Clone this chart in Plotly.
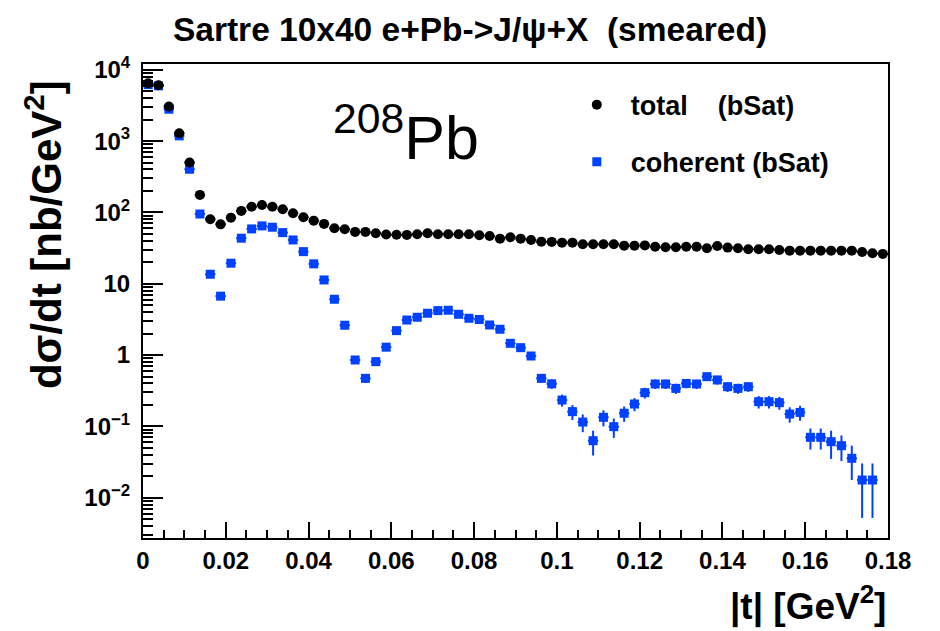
import plotly.graph_objects as go

# ---- data ----
n_bins = 72
bin_width = 0.0025
t_centers = [round(bin_width * (i + 0.5), 6) for i in range(n_bins)]

total_bsat = [
    6490, 6080, 3050, 1290, 500, 176, 80, 68, 84.5, 105,
    120, 127, 120, 111, 97.5, 85.6, 76.7, 69, 60, 58,
    53.3, 53.3, 51, 48.9, 48.5, 48.4, 49.5, 51.1, 49.5, 49.5,
    49.5, 49.5, 47.9, 46.8, 42.9, 44.9, 42.9, 41.1, 38.9, 38.6,
    37.7, 37.7, 35.8, 35.8, 35.8, 35.8, 34.2, 34.2, 34.5, 33.0,
    32.5, 32.5, 33.1, 33.1, 31.5, 33.9, 32.1, 31.5, 30.5, 30.5,
    30.5, 29.8, 29.1, 29.1, 29.1, 29.1, 29.1, 29.1, 29.1, 27.9,
    26.8, 26.2,
]

coherent_bsat = [
    6200, 5950, 2800, 1183, 403, 95, 13.6, 6.7, 19.4, 43.5,
    58.7, 64.7, 62, 52.1, 41.1, 28.2, 19.0, 11.3, 6.06, 2.62,
    0.853, 0.472, 0.808, 1.29, 2.2, 3.1, 3.39, 3.86, 4.2, 4.25,
    3.73, 3.28, 3.15, 2.64, 2.3, 1.46, 1.27, 0.97, 0.472, 0.395,
    0.234, 0.161, 0.115, 0.063, 0.134, 0.099, 0.153, 0.206, 0.297, 0.393,
    0.393, 0.341, 0.40, 0.393, 0.498, 0.448, 0.36, 0.341, 0.36, 0.222,
    0.222, 0.215, 0.149, 0.157, 0.0703, 0.0703, 0.061, 0.0536, 0.0357, 0.0177,
    0.0177, None,
]

coherent_err = [
    7.3, 7.2, 5.0, 3.2, 1.9, 0.9, 0.35, 0.24, 0.41, 0.62,
    0.72, 0.75, 0.74, 0.68, 0.6, 0.5, 0.41, 0.32, 0.23, 0.15,
    0.087, 0.064, 0.084, 0.107, 0.14, 0.165, 0.17, 0.18, 0.19, 0.19,
    0.18, 0.17, 0.167, 0.152, 0.142, 0.113, 0.106, 0.092, 0.064, 0.059,
    0.045, 0.038, 0.032, 0.024, 0.034, 0.03, 0.037, 0.043, 0.051, 0.059,
    0.059, 0.055, 0.059, 0.059, 0.066, 0.063, 0.056, 0.055, 0.056, 0.044,
    0.044, 0.044, 0.036, 0.037, 0.023, 0.023, 0.026, 0.021, 0.018, 0.0125,
    0.0125, 0,
]

y_tickvals = [0.01, 0.1, 1, 10, 100, 1000, 10000]
y_ticktext = ["10<sup>\u22122</sup>", "10<sup>\u22121</sup>", "1", "10",
              "10<sup>2</sup>", "10<sup>3</sup>", "10<sup>4</sup>"]
y_minor = [k * 10.0 ** e for e in range(-3, 5) for k in range(2, 10)]

FONT = "Liberation Sans, Arial, Helvetica, sans-serif"
BLUE = "#0040ff"

# page has an 8px body margin -> figure is 8px smaller and shifted
W, H = 932, 623

fig = go.Figure()

fig.add_trace(go.Scatter(
    x=t_centers, y=coherent_bsat, mode="markers",
    name="coherent (bSat)", legendrank=2, legendgroup="coh",
    marker=dict(symbol="square", size=9, color=BLUE, line=dict(width=0)),
    error_y=dict(type="data", array=coherent_err, visible=True,
                 color=BLUE, thickness=2, width=0),
    error_x=dict(type="constant", value=bin_width / 2, visible=True,
                 color=BLUE, thickness=2, width=0),
))

fig.add_trace(go.Scatter(
    x=t_centers, y=total_bsat, mode="markers",
    name="total\u00a0\u00a0\u00a0\u00a0(bSat)", legendrank=1, legendgroup="tot",
    marker=dict(symbol="circle", size=10, color="black", line=dict(width=0)),
    error_x=dict(type="constant", value=bin_width / 2, visible=True,
                 color="black", thickness=2, width=0),
))

fig.update_layout(
    width=W, height=H,
    margin=dict(l=135, r=52, t=56, b=93),
    paper_bgcolor="white", plot_bgcolor="white",
    font=dict(family=FONT, color="black", size=24),
    title=dict(text="Sartre 10x40 e+Pb->J/\u03c8+X\u00a0\u00a0(smeared)",
               x=462 / W, xref="container", xanchor="center",
               y=1 - 21 / H, yref="container", yanchor="middle",
               font=dict(family=FONT, size=33.5, weight="bold", color="black")),
    showlegend=True,
    legend=dict(x=0.5635, y=0.965, xanchor="left", yanchor="top",
                bgcolor="rgba(0,0,0,0)", borderwidth=0,
                traceorder="grouped", tracegroupgap=19, itemwidth=58,
                font=dict(family=FONT, size=27, weight="bold", color="black")),
)

fig.update_xaxes(
    range=[0, 0.18], dtick=0.02, tick0=0,
    showline=True, mirror=True, linecolor="black", linewidth=2,
    showgrid=False, zeroline=False,
    ticks="inside", ticklen=16, tickwidth=2, tickcolor="black",
    minor=dict(dtick=0.005, tick0=0, ticks="inside", ticklen=8,
               tickwidth=2, tickcolor="black", showgrid=False),
    tickfont=dict(family=FONT, size=24, weight="bold"),
    ticklabelstandoff=0,
)

fig.update_yaxes(
    type="log", range=[-2.565, 4.081],
    tickmode="array", tickvals=y_tickvals, ticktext=y_ticktext,
    showline=True, mirror=True, linecolor="black", linewidth=2,
    showgrid=False, zeroline=False,
    ticks="inside", ticklen=20, tickwidth=2, tickcolor="black",
    minor=dict(tickmode="array", tickvals=y_minor, ticks="inside", ticklen=10,
               tickwidth=2, tickcolor="black", showgrid=False),
    tickfont=dict(family=FONT, size=24, weight="bold"),
    ticklabelstandoff=6,
)

fig.add_annotation(
    text="<sup>208</sup>Pb", xref="paper", yref="paper",
    x=0.252, y=0.855, xanchor="left", yanchor="middle", showarrow=False,
    font=dict(family=FONT, size=61, color="black"),
)
fig.add_annotation(
    text="d\u03c3/dt [nb/GeV<sup>2</sup>]", xref="paper", yref="paper",
    x=-0.133, y=0.641, xanchor="center", yanchor="middle", textangle=-90,
    showarrow=False, font=dict(family=FONT, size=42, weight="bold", color="black"),
)
fig.add_annotation(
    text="|t| [GeV<sup>2</sup>]", xref="paper", yref="paper",
    x=1.0, y=-0.139, xanchor="right", yanchor="middle",
    showarrow=False, font=dict(family=FONT, size=37, weight="bold", color="black"),
)

fig.write_html("out.html")
